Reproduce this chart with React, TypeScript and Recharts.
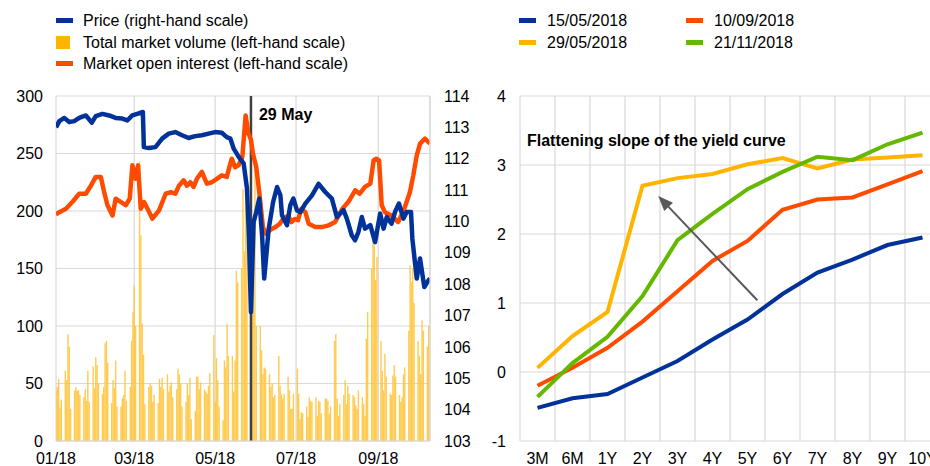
import React from 'react';
import {
  ComposedChart,
  LineChart,
  Line,
  Bar,
  XAxis,
  YAxis,
  CartesianGrid,
  ReferenceLine,
  ReferenceDot,
} from 'recharts';

const FONT = '"Liberation Sans", Arial, Helvetica, sans-serif';
const BLUE = '#003299';
const ORANGE = '#FF4B00';
const YELLOW = '#FFB400';
const GREEN = '#65B800';
const GRID = '#d9d9d9';
const TEXT = '#000';

// ---------- Left chart data (x = calendar day of 2018, 0 = 1 Jan) ----------
const monthTickDays = [0, 59, 120, 181, 243];
const monthTickLabels = ['01/18', '03/18', '05/18', '07/18', '09/18'];
const MAY29 = 147;

const priceDays = [
  0, 2.5, 6.25, 10, 13.75, 17.5, 22.5, 27, 30, 35, 40, 45, 50, 53.75, 57.5, 61.25, 65.5, 66.25, 70, 75,
  80, 85, 90, 95, 100, 105, 110, 115, 120, 125, 128.75, 131.5, 134, 137.75, 141.5, 144, 145.5, 147, 149, 151,
  153.25, 155.4, 157, 160.4, 163.7, 166.7, 169.2, 170.4, 174.2, 176.7, 179, 181.7, 184.2, 188, 193, 198, 203, 208, 211.8, 216.8,
  219.3, 223, 225.5, 228, 230.6, 233, 237, 240.6, 244.4, 247, 249.4, 253, 255.6, 258.6, 262, 264.4, 267.7, 268.7, 272, 274.5,
  277.7, 280.8, 282,
];
const price = [
  113.0, 113.2, 113.3, 113.17, 113.2, 113.3, 113.38, 113.15, 113.36, 113.43, 113.38, 113.3, 113.28, 113.22, 113.38, 113.43, 113.49, 112.37, 112.34, 112.37,
  112.64, 112.8, 112.85, 112.75, 112.66, 112.72, 112.75, 112.8, 112.85, 112.83, 112.69, 112.64, 112.32, 112.06, 111.85, 111.05, 109.5, 107.11, 109.98, 110.3,
  110.73, 109.56, 108.18, 109.77, 110.62, 111.1, 110.83, 110.2, 109.88, 110.52, 110.73, 110.35, 110.3, 110.57, 110.83, 111.2, 110.94, 110.73, 110.14, 110.36,
  110.09, 109.56, 109.4, 109.66, 110.14, 109.77, 109.88, 109.34, 110.25, 109.77, 110.14, 109.93, 110.3, 110.57, 110.09, 110.3, 110.3, 109.45, 108.18, 108.82,
  107.91, 108.12, 108.18,
];

const oiDays = [
  0, 2.5, 7.5, 12.5, 17.5, 22.5, 26.3, 30, 33.8, 36.3, 38.8, 42.6, 45, 48.75, 52.6, 55.6, 57.6, 60, 61.9, 63.9,
  66.4, 69, 72.7, 77.7, 82.7, 86.5, 90, 92.7, 96.25, 98.75, 101.25, 103.75, 106.25, 110, 113.75, 117.5, 121.25, 125, 128.75, 132.5,
  135, 137.8, 140.5, 143, 145, 147, 148.5, 151, 153.5, 156, 158.5, 162, 165.5, 168.75, 171.25, 175, 177.5, 180, 182.5, 185,
  188, 190.5, 195.5, 200.5, 205.5, 210.5, 213, 216, 220.5, 225.6, 229, 233, 237, 239.5, 241.5, 243.6, 245.6, 248, 253, 258,
  262, 264.4, 266.9, 269.4, 272, 274.5, 278.2, 282,
];
const oi = [
  197, 199, 202, 208, 215, 215, 222, 229.6, 229.6, 216.5, 205, 196, 210.7, 208, 205, 210.7, 239.7, 228, 239.7, 202,
  207.8, 202, 193.3, 200.6, 215, 216.5, 215, 222, 226.7, 222, 225, 221, 228, 234, 223.8, 225, 228, 231, 229.6, 245.5,
  238, 240, 247, 283, 268, 262, 250, 238, 214, 186, 180, 184, 186, 189, 193, 196, 190.4, 193, 192, 202,
  199, 189, 186, 186, 187.5, 190.4, 196, 202, 208, 218, 215, 221, 223.8, 244, 245.5, 244, 205, 199, 196, 190.4,
  200, 208, 216.5, 231, 248.4, 258.6, 263, 258.6,
];

// daily total market volume, one value per trading day (Mon-Fri) from 1 Jan
const volume = [
  44, 47, 54, 29, 36, 61, 53, 93, 82, 28, 44, 47, 44, 44, 40, 38, 45, 35, 61, 34,
  65, 46, 73, 66, 50, 41, 47, 85, 87, 68, 33, 53, 46, 70, 30, 30, 37, 40, 61, 35,
  47, 87, 112, 135, 100, 243, 179, 102, 75, 32, 47, 50, 48, 34, 40, 33, 54, 47, 55, 45,
  58, 43, 48, 51, 38, 45, 63, 58, 50, 30, 34, 50, 40, 55, 19, 26, 56, 56, 45, 51,
  45, 43, 41, 48, 59, 92, 34, 72, 53, 30, 18, 70, 64, 102, 74, 74, 43, 70, 148, 138,
  150, 219, 165, 230, 208, 121, 127, 138, 241, 100, 100, 79, 58, 64, 63, 58, 47, 50, 38, 40,
  74, 48, 41, 37, 41, 56, 44, 28, 28, 41, 63, 41, 19, 25, 24, 30, 21, 38, 35, 34,
  38, 22, 35, 34, 24, 37, 37, 35, 24, 30, 87, 93, 37, 22, 32, 40, 53, 32, 48, 41,
  40, 38, 31, 28, 44, 38, 32, 22, 89, 112, 150, 176, 170, 140, 160, 87, 61, 44, 76, 56,
  41, 40, 57, 66, 56, 40, 34, 38, 58, 64, 96, 153, 138, 150, 120, 87, 74, 58, 105, 96,
  82, 100,
];

const leftTicks = [0, 50, 100, 150, 200, 250, 300];
const rightTicks = [103, 104, 105, 106, 107, 108, 109, 110, 111, 112, 113, 114];

const tradingDays: number[] = [];
for (let d = 0; d <= 281; d++) if (d % 7 < 5) tradingDays.push(d);
const volumeData = tradingDays.map((d, i) => ({ d, v: volume[i] }));
const priceData = priceDays.map((d, i) => ({ d, p: price[i] }));
const oiData = oiDays.map((d, i) => ({ d, o: oi[i] }));

// ---------- Right chart data ----------
const tenors = ['3M', '6M', '1Y', '2Y', '3Y', '4Y', '5Y', '6Y', '7Y', '8Y', '9Y', '10Y'];
const y150518 = [-0.52, -0.38, -0.32, -0.08, 0.16, 0.47, 0.76, 1.13, 1.44, 1.63, 1.84, 1.95];
const y290518 = [0.06, 0.52, 0.87, 2.7, 2.81, 2.87, 3.01, 3.1, 2.95, 3.08, 3.11, 3.14];
const y100918 = [-0.2, 0.06, 0.35, 0.73, 1.17, 1.61, 1.9, 2.35, 2.5, 2.53, 2.72, 2.91];
const y211118 = [-0.36, 0.13, 0.51, 1.1, 1.91, 2.29, 2.65, 2.9, 3.12, 3.07, 3.3, 3.47];
const yieldTicks = [-1, 0, 1, 2, 3, 4];

const curveData = tenors.map((t, i) => ({
  x: i + 0.5,
  a: y150518[i],
  b: y100918[i],
  c: y290518[i],
  e: y211118[i],
}));
const tenorCenters = tenors.map((_, i) => i + 0.5);
const tenorBounds = [0, 1, 2, 3, 4, 5, 6, 7, 8, 9, 10, 11, 12];

const arrowSegment = [
  { x: 6.78, y: 1.04 },
  { x: 3.95, y: 2.55 },
];

const tickStyle = { fill: TEXT, fontSize: 16, fontFamily: FONT };

const Arrow = (props: any) => {
  const { x1, y1, x2, y2 } = props;
  if ([x1, y1, x2, y2].some((v) => typeof v !== 'number' || isNaN(v))) return null;
  const ang = Math.atan2(y2 - y1, x2 - x1);
  const L = 15;
  const W = 6;
  const bx = x2 - L * Math.cos(ang);
  const by = y2 - L * Math.sin(ang);
  const pts = `${x2},${y2} ${bx + W * Math.sin(ang)},${by - W * Math.cos(ang)} ${bx - W * Math.sin(ang)},${by + W * Math.cos(ang)}`;
  return (
    <g>
      <line x1={x1} y1={y1} x2={bx} y2={by} stroke="#595959" strokeWidth={2} />
      <polygon points={pts} fill="#595959" />
    </g>
  );
};

// thin volume bar centred on the band the library computes
const ThinBar = (props: any) => {
  const { x, y, width, height } = props;
  if ([x, y, width, height].some((v) => typeof v !== 'number' || isNaN(v)) || height <= 0) return null;
  const cx = x + width / 2;
  return <rect x={cx - 0.7} y={y} width={1.4} height={height} fill="#FFC233" fillOpacity={0.85} />;
};

const LegendRow = ({ color, label, square }: { color: string; label: string; square?: boolean }) => (
  <div style={{ display: 'flex', alignItems: 'center', height: 21.5 }}>
    <div style={{ width: 27, display: 'flex', alignItems: 'center' }}>
      <div style={{ width: square ? 14 : 17, height: square ? 13 : 5, background: color }} />
    </div>
    <span style={{ fontSize: 16, color: TEXT, whiteSpace: 'nowrap', lineHeight: '21.5px' }}>{label}</span>
  </div>
);

function LegendRowR({ color, label }: { color: string; label: string }) {
  return (
    <div style={{ display: 'flex', alignItems: 'center', height: 21.5 }}>
      <div style={{ width: 28, display: 'flex', alignItems: 'center' }}>
        <div style={{ width: 17, height: 5, background: color }} />
      </div>
      <span style={{ fontSize: 16, color: TEXT, whiteSpace: 'nowrap', lineHeight: '21.5px' }}>{label}</span>
    </div>
  );
}

export default function App() {
  return (
    <div
      style={{
        position: 'absolute',
        left: 0,
        top: 0,
        width: 930,
        height: 466,
        overflow: 'hidden',
        background: '#fff',
        fontFamily: FONT,
      }}
    >
      {/* Left legend */}
      <div style={{ position: 'absolute', left: 56, top: 10 }}>
        <LegendRow color={BLUE} label="Price (right-hand scale)" />
        <LegendRow color={YELLOW} label="Total market volume (left-hand scale)" square />
        <LegendRow color={ORANGE} label="Market open interest (left-hand scale)" />
      </div>

      {/* Right legend */}
      <div style={{ position: 'absolute', left: 519, top: 10, display: 'flex' }}>
        <div style={{ width: 167 }}>
          <LegendRowR color={BLUE} label="15/05/2018" />
          <LegendRowR color={YELLOW} label="29/05/2018" />
        </div>
        <div>
          <LegendRowR color={ORANGE} label="10/09/2018" />
          <LegendRowR color={GREEN} label="21/11/2018" />
        </div>
      </div>

      {/* Left chart */}
      <div style={{ position: 'absolute', left: 0, top: 0 }}>
        <ComposedChart width={480} height={466} data={volumeData} margin={{ top: 96, right: 0, bottom: 0, left: 0 }}>
          <CartesianGrid stroke={GRID} strokeWidth={1.2} yAxisId="left" />
          <XAxis
            dataKey="d"
            type="number"
            domain={[0, 282]}
            ticks={monthTickDays}
            interval={0}
            tickFormatter={(v: number) => monthTickLabels[monthTickDays.indexOf(v)] ?? ''}
            tick={tickStyle}
            tickLine={false}
            tickMargin={6}
            axisLine={{ stroke: GRID, strokeWidth: 1.2 }}
            height={25}
            allowDataOverflow
          />
          <YAxis
            yAxisId="left"
            orientation="left"
            domain={[0, 300]}
            ticks={leftTicks}
            interval={0}
            tick={tickStyle}
            tickLine={false}
            tickMargin={7}
            axisLine={false}
            width={56}
          />
          <YAxis
            yAxisId="right"
            orientation="right"
            domain={[103, 114]}
            ticks={rightTicks}
            interval={0}
            tick={{ ...tickStyle, textAnchor: 'start' }}
            tickLine={false}
            tickMargin={8}
            axisLine={{ stroke: GRID, strokeWidth: 1.2 }}
            width={50}
          />
          <Bar yAxisId="left" dataKey="v" fill="#FFC233" shape={ThinBar} isAnimationActive={false} />
          <ReferenceLine
            yAxisId="left"
            x={MAY29}
            stroke="#404040"
            strokeWidth={2.5}
            label={(p: any) => {
              const vb = p.viewBox || {};
              return (
                <text x={vb.x + 8} y={vb.y + 24} fontSize={16} fontWeight="bold" fill={TEXT} fontFamily={FONT}>
                  29 May
                </text>
              );
            }}
          />
          <Line
            yAxisId="left"
            data={oiData}
            dataKey="o"
            stroke={ORANGE}
            strokeWidth={4.5}
            dot={false}
            strokeLinejoin="round"
            isAnimationActive={false}
          />
          <Line
            yAxisId="right"
            data={priceData}
            dataKey="p"
            stroke={BLUE}
            strokeWidth={4.5}
            dot={false}
            strokeLinejoin="round"
            isAnimationActive={false}
          />
        </ComposedChart>
      </div>

      {/* Right chart */}
      <div style={{ position: 'absolute', left: 465, top: 0 }}>
        <LineChart width={480} height={466} data={curveData} margin={{ top: 96, right: 5, bottom: 0, left: 0 }}>
          <CartesianGrid stroke={GRID} strokeWidth={1.2} xAxisId="grid" />
          <XAxis xAxisId="grid" type="number" dataKey="x" domain={[0, 12]} ticks={tenorBounds} interval={0} hide />
          <XAxis
            dataKey="x"
            type="number"
            domain={[0, 12]}
            ticks={tenorCenters}
            interval={0}
            tickFormatter={(v: number) => tenors[Math.round(v - 0.5)] ?? ''}
            tick={tickStyle}
            tickLine={false}
            tickMargin={6}
            axisLine={false}
            height={25}
          />
          <YAxis
            domain={[-1, 4]}
            ticks={yieldTicks}
            interval={0}
            tick={tickStyle}
            tickLine={false}
            tickMargin={8}
            axisLine={false}
            width={55}
          />
          <ReferenceDot
            x={0.2}
            y={3.28}
            r={0}
            shape={(p: any) => (
              <text x={p.cx} y={p.cy} fontSize={16} fontWeight="bold" fill={TEXT} fontFamily={FONT}>
                Flattening slope of the yield curve
              </text>
            )}
          />
          <Line dataKey="a" stroke={BLUE} strokeWidth={4} dot={false} isAnimationActive={false} />
          <Line dataKey="b" stroke={ORANGE} strokeWidth={4} dot={false} isAnimationActive={false} />
          <Line dataKey="c" stroke={YELLOW} strokeWidth={4} dot={false} isAnimationActive={false} />
          <Line dataKey="e" stroke={GREEN} strokeWidth={4} dot={false} isAnimationActive={false} />
          <ReferenceLine segment={arrowSegment} shape={Arrow} ifOverflow="visible" />
        </LineChart>
      </div>
    </div>
  );
}
